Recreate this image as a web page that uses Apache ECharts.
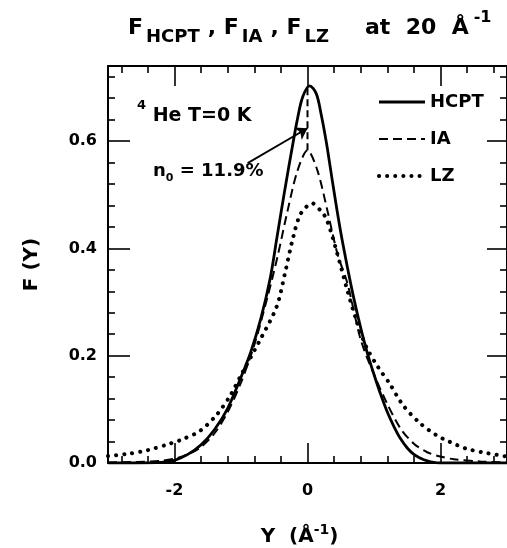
<!DOCTYPE html>
<html><head><meta charset="utf-8">
<script src="https://cdn.jsdelivr.net/npm/echarts@6/dist/echarts.min.js"></script>
<style>html,body{margin:0;padding:0;background:#fff}#c{width:507px;height:548px}</style>
</head><body><div id="c"></div>
<script>
// ---- data ----
const hcptY = [-3.0,-2.6,-2.2,-2.0,-1.8,-1.6,-1.4,-1.2,-1.0,-0.85,-0.7,-0.56,-0.46,-0.34,-0.22,-0.145,-0.07,0.03,0.13,0.205,0.28,0.35,0.4,0.5,0.6,0.7,0.8,0.9,1.0,1.1,1.2,1.3,1.4,1.5,1.6,1.7,1.8,1.9,2.0,2.2,2.6,3.0];
const hcptF = [0,0,0.001,0.005,0.016,0.034,0.062,0.102,0.16,0.208,0.27,0.345,0.42,0.51,0.595,0.645,0.683,0.703,0.689,0.65,0.6,0.545,0.505,0.43,0.365,0.305,0.252,0.205,0.165,0.128,0.095,0.068,0.045,0.028,0.016,0.009,0.004,0.001,0,0,0,0];
const iaY = [-3.0,-2.6,-2.2,-2.0,-1.8,-1.6,-1.4,-1.2,-1.0,-0.8,-0.6,-0.45,-0.3,-0.15,0,0.15,0.3,0.45,0.6,0.8,1.0,1.2,1.4,1.6,1.8,2.0,2.2,2.6,3.0];
const iaF = [0.001,0.002,0.004,0.008,0.016,0.03,0.055,0.095,0.15,0.22,0.31,0.385,0.47,0.545,0.583,0.545,0.47,0.39,0.335,0.23,0.165,0.11,0.064,0.036,0.02,0.012,0.007,0.003,0.001];
const lzY = [-3.0,-2.7,-2.4,-2.07,-1.865,-1.615,-1.365,-1.165,-0.99,-0.715,-0.465,-0.34,-0.215,-0.1,0.075,0.2,0.285,0.435,0.585,0.735,0.885,1.06,1.235,1.435,1.685,1.935,2.13,2.38,2.63,3.0];
const lzF = [0.013,0.017,0.024,0.036,0.045,0.06,0.09,0.125,0.166,0.229,0.291,0.353,0.421,0.465,0.484,0.47,0.455,0.396,0.328,0.266,0.216,0.179,0.148,0.108,0.075,0.052,0.04,0.027,0.02,0.012];
// condensate (delta) marker of the IA curve at Y = 0
const deltaY = [0, 0];
const deltaF = [0.583, 0.70];
// n0 arrow: from label to the delta line
const arrowFrom = [-0.9, 0.559];
const arrowTo = [0, 0.624];
// ticks
const xMajor = [-2, 0, 2];
const xMinor = [-2.8,-2.4,-1.6,-1.2,-0.8,-0.4,0.4,0.8,1.2,1.6,2.4,2.8];
const yMajor = [0, 0.2, 0.4, 0.6];
const yMinor = [0.04,0.08,0.12,0.16,0.24,0.28,0.32,0.36,0.44,0.48,0.52,0.56,0.64,0.68,0.72];

const FONT = 'DejaVu Sans';
const K = '#000';
const pair = (xs, ys) => xs.map((x, i) => [x, ys[i]]);

function xAx(pos, ticks, len, line, labels) {
  return {
    type: 'value', position: pos, min: -3, max: 3,
    axisLine: {show: line, onZero: false, lineStyle: {color: K, width: 2}},
    axisTick: {show: true, inside: true, length: len, customValues: ticks, lineStyle: {color: K, width: 1.6}},
    axisLabel: labels ? {show: true, customValues: ticks, margin: 20, color: K, fontSize: 16, fontWeight: 'bold', fontFamily: FONT,
      formatter: v => (v < 0 ? '-' : '') + Math.abs(v)} : {show: false},
    splitLine: {show: false}
  };
}
function yAx(pos, ticks, len, line, labels) {
  return {
    type: 'value', position: pos, min: 0, max: 0.74,
    axisLine: {show: line, onZero: false, lineStyle: {color: K, width: 2}},
    axisTick: {show: true, inside: true, length: len, customValues: ticks, lineStyle: {color: K, width: 1.6}},
    axisLabel: labels ? {show: true, customValues: ticks, margin: 11, color: K, fontSize: 16, fontWeight: 'bold', fontFamily: FONT,
      formatter: v => v.toFixed(1)} : {show: false},
    splitLine: {show: false}
  };
}

const rt = (size, lh, va, pad) => ({fontSize: size, fontWeight: 'bold', fontFamily: FONT, color: K, lineHeight: lh, verticalAlign: va, padding: pad || 0});

const xAxes = [xAx('bottom', xMajor, 20, true, true), xAx('bottom', xMinor, 7, false, false),
               xAx('top', xMajor, 20, true, false), xAx('top', xMinor, 7, false, false)];
xAxes[0].name = '{m|Y  (Å}{sup|-1}{m|)}';
xAxes[0].nameLocation = 'middle';
xAxes[0].nameGap = 60;
xAxes[0].nameTextStyle = {padding: [0, 16, 0, 0], rich: {m: rt(20, 28, 'middle'), sup: rt(14, 8, 'top')}};
const yAxes = [yAx('left', yMajor, 22, true, true), yAx('left', yMinor, 7, false, false),
               yAx('right', yMajor, 20, true, false), yAx('right', yMinor, 7, false, false)];
yAxes[0].name = 'F (Y)';
yAxes[0].nameLocation = 'middle';
yAxes[0].nameRotate = 90;
yAxes[0].nameGap = 66;
yAxes[0].nameTextStyle = {fontSize: 20, fontWeight: 'bold', fontFamily: FONT, color: K};

const chart = echarts.init(document.getElementById('c'), null, {renderer: 'canvas'});
chart.setOption({
  animation: false,
  backgroundColor: '#fff',
  grid: {left: 108, right: 0, top: 66, bottom: 85, containLabel: false, outerBoundsMode: 'none'},
  title: [
    {left: 128, top: 10, padding: 0,
     text: '{f|F}{s1|HCPT}{fc|, F}{s1|IA}{fc|, F}{s3|LZ}{a|at  20  Å}{sup|-1}',
     textStyle: {rich: {
       f: rt(22, 36, 'middle'), fc: rt(22, 36, 'middle', [0, 0, 0, 3]),
       s1: rt(18, 5, 'bottom', [0, 5, 0, 3]), s3: rt(18, 5, 'bottom', [0, 0, 0, 3]),
       a: rt(22, 36, 'middle', [0, 0, 0, 36]), sup: rt(16, 30, 'top', [0, 0, 0, 5])}}},
    {left: 137, top: 99, padding: 0,
     text: '{sup|4}{m| He T=0 K}',
     textStyle: {rich: {m: rt(19, 34, 'middle'), sup: rt(13, 9, 'top')}}},
    {left: 153, top: 158, padding: 0,
     text: '{m|n}{sub|0}{m| = 11.9%}',
     textStyle: {rich: {m: rt(18, 26, 'middle'), sub: rt(11, 8, 'bottom')}}}
  ],
  legend: {
    orient: 'vertical', left: 377, top: 93, padding: 0,
    itemWidth: 46, itemHeight: 14, itemGap: 19,
    data: ['HCPT', 'IA', 'LZ'],
    itemStyle: {opacity: 0},
    lineStyle: {width: 'inherit', type: 'inherit', cap: 'inherit'},
    textStyle: {fontSize: 18, fontWeight: 'bold', fontFamily: FONT, color: K}
  },
  xAxis: xAxes,
  yAxis: yAxes,
  series: [
    {name: 'HCPT', type: 'line', data: pair(hcptY, hcptF), symbol: 'none', smooth: 0.35,
     lineStyle: {color: K, width: 2.8, type: 'solid'}, itemStyle: {color: K}},
    {name: 'IA', type: 'line', data: pair(iaY, iaF), symbol: 'none', smooth: 0.3,
     lineStyle: {color: K, width: 2, type: [9, 5]}, itemStyle: {color: K}},
    {name: 'LZ', type: 'line', data: pair(lzY, lzF), symbol: 'none', smooth: 0.3,
     lineStyle: {color: K, width: 4, type: [0.1, 8], cap: 'round'}, itemStyle: {color: K}},
    {name: 'IA delta', type: 'line', data: pair(deltaY, deltaF), symbol: 'none',
     lineStyle: {color: K, width: 2, type: [7, 4]}, itemStyle: {color: K},
     markLine: {silent: true, symbol: ['none', 'arrow'], symbolSize: 11, label: {show: false},
       lineStyle: {color: K, width: 1.8, type: 'solid'}, emphasis: {disabled: true},
       data: [[{coord: arrowFrom}, {coord: arrowTo}]]}}
  ]
});
</script>
</body></html>
